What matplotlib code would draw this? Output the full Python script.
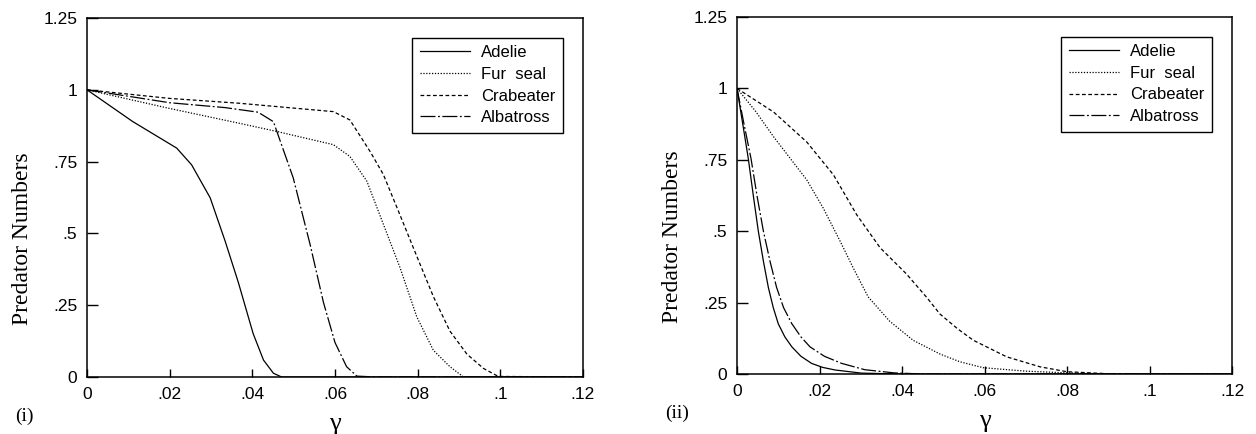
import matplotlib
matplotlib.use("Agg")
import matplotlib.pyplot as plt

# ---------------- data ----------------
species = ["Adelie", "Fur  seal", "Crabeater", "Albatross"]

# panel (i)
adelie_x1 = [0, 0.011, 0.0217, 0.0253, 0.0298, 0.0334, 0.0366, 0.0402, 0.0427, 0.0451, 0.0471, 0.12]
adelie_y1 = [1, 0.89, 0.797, 0.739, 0.624, 0.474, 0.33, 0.151, 0.059, 0.013, 0, 0]
fur_x1 = [0, 0.02, 0.037, 0.0459, 0.0596, 0.0636, 0.0677, 0.0717, 0.0757, 0.0798, 0.0838, 0.0878, 0.091, 0.12]
fur_y1 = [1, 0.935, 0.883, 0.855, 0.809, 0.768, 0.682, 0.532, 0.382, 0.209, 0.093, 0.036, 0.001, 0]
crab_x1 = [0, 0.02, 0.037, 0.0596, 0.0636, 0.0685, 0.0717, 0.0757, 0.0798, 0.0838, 0.0878, 0.0919, 0.0959, 0.0995, 0.12]
crab_y1 = [1, 0.97, 0.953, 0.924, 0.895, 0.785, 0.705, 0.565, 0.42, 0.28, 0.16, 0.08, 0.03, 0.002, 0]
alba_x1 = [0, 0.02, 0.0334, 0.0414, 0.0451, 0.0499, 0.054, 0.0572, 0.06, 0.0628, 0.0653, 0.07, 0.12]
alba_y1 = [1, 0.955, 0.938, 0.922, 0.889, 0.693, 0.46, 0.26, 0.12, 0.036, 0.003, 0, 0]

# panel (ii)
adelie_x2 = [0, 0.0014, 0.00274, 0.0040, 0.00517, 0.0064, 0.0076, 0.0088, 0.01, 0.0116, 0.0133, 0.0155, 0.0181, 0.0208, 0.0238, 0.0302, 0.04, 0.12]
adelie_y2 = [1, 0.875, 0.754, 0.62, 0.5, 0.395, 0.303, 0.232, 0.176, 0.13, 0.095, 0.062, 0.037, 0.023, 0.014, 0.003, 0, 0]
fur_x2 = [0, 0.0045, 0.0089, 0.0129, 0.0169, 0.0209, 0.025, 0.0284, 0.0318, 0.037, 0.0427, 0.0492, 0.054, 0.0597, 0.07, 0.08, 0.09, 0.12]
fur_y2 = [1, 0.92, 0.83, 0.755, 0.68, 0.581, 0.465, 0.365, 0.27, 0.185, 0.118, 0.07, 0.043, 0.022, 0.01, 0.004, 0, 0]
crab_x2 = [0, 0.0089, 0.0169, 0.0234, 0.029, 0.0347, 0.0411, 0.046, 0.0492, 0.0535, 0.0573, 0.0654, 0.0735, 0.08, 0.09, 0.1, 0.12]
crab_y2 = [1, 0.917, 0.8125, 0.697, 0.558, 0.442, 0.35, 0.268, 0.21, 0.158, 0.118, 0.06, 0.025, 0.008, 0.001, 0, 0]
alba_x2 = [0, 0.0017, 0.0034, 0.0049, 0.0064, 0.008, 0.0096, 0.0113, 0.0133, 0.0155, 0.0177, 0.0212, 0.0254, 0.031, 0.038, 0.045, 0.12]
alba_y2 = [1, 0.875, 0.754, 0.62, 0.5, 0.395, 0.303, 0.232, 0.176, 0.13, 0.095, 0.062, 0.037, 0.015, 0.004, 0, 0]

x_ticks = [0, 0.02, 0.04, 0.06, 0.08, 0.1, 0.12]
x_ticklabels = ["0", ".02", ".04", ".06", ".08", ".1", ".12"]
y_ticks = [0, 0.25, 0.5, 0.75, 1, 1.25]
y_ticklabels = ["0", ".25", ".5", ".75", "1", "1.25"]
panel_labels = ["(i)", "(ii)"]
y_label = "Predator Numbers"
x_label = "\u03b3"

# ---------------- styling ----------------
sans = ["Liberation Sans", "DejaVu Sans"]
serif = ["Liberation Serif", "DejaVu Serif"]
styles = [
    dict(linestyle="-"),
    dict(linestyle=(0, (1, 1.3))),
    dict(linestyle=(0, (3, 2))),
    dict(linestyle=(0, (12, 2, 1.5, 2))),
]

fig = plt.figure(figsize=(12.56, 4.34), dpi=100)
axes_pos = [
    [87 / 1256, 1 - 377 / 434, 496 / 1256, 359 / 434],
    [737 / 1256, 1 - 374 / 434, 495 / 1256, 357 / 434],
]
panels = [
    [(adelie_x1, adelie_y1), (fur_x1, fur_y1), (crab_x1, crab_y1), (alba_x1, alba_y1)],
    [(adelie_x2, adelie_y2), (fur_x2, fur_y2), (crab_x2, crab_y2), (alba_x2, alba_y2)],
]

for i, (pos, data) in enumerate(zip(axes_pos, panels)):
    ax = fig.add_axes(pos)
    for (xs, ys), name, st in zip(data, species, styles):
        ax.plot(xs, ys, color="black", lw=0.9, label=name, **st)
    ax.set_xlim(0, 0.12)
    ax.set_ylim(0, 1.25)
    ax.set_xticks(x_ticks)
    ax.set_xticklabels(x_ticklabels, family=sans, fontsize=12.5)
    ax.set_yticks(y_ticks)
    ax.set_yticklabels(y_ticklabels, family=sans, fontsize=12.5)
    ax.tick_params(axis="x", direction="in", length=6, width=1, pad=7)
    ax.tick_params(axis="y", direction="in", length=8, width=1, pad=7)
    for sp in ax.spines.values():
        sp.set_linewidth(1.1)
    ax.set_ylabel(y_label, family=serif, fontsize=17)
    ax.yaxis.set_label_coords(-0.109, 0.385)
    ax.set_xlabel(x_label, family=serif, fontsize=19)
    ax.xaxis.set_label_coords(0.5, -0.1)
    ax.text(-0.145, -0.11, panel_labels[i], transform=ax.transAxes,
            family=serif, fontsize=14, ha="left", va="center")
    leg = ax.legend(loc="upper right", bbox_to_anchor=(0.96, 0.945),
                    fancybox=False, framealpha=1, edgecolor="black",
                    prop={"family": sans, "size": 12},
                    handlelength=3.0, labelspacing=0.4, borderpad=0.45,
                    handletextpad=0.7, borderaxespad=0)
    leg.get_frame().set_linewidth(1.0)

fig.savefig("out.png", dpi=100)
